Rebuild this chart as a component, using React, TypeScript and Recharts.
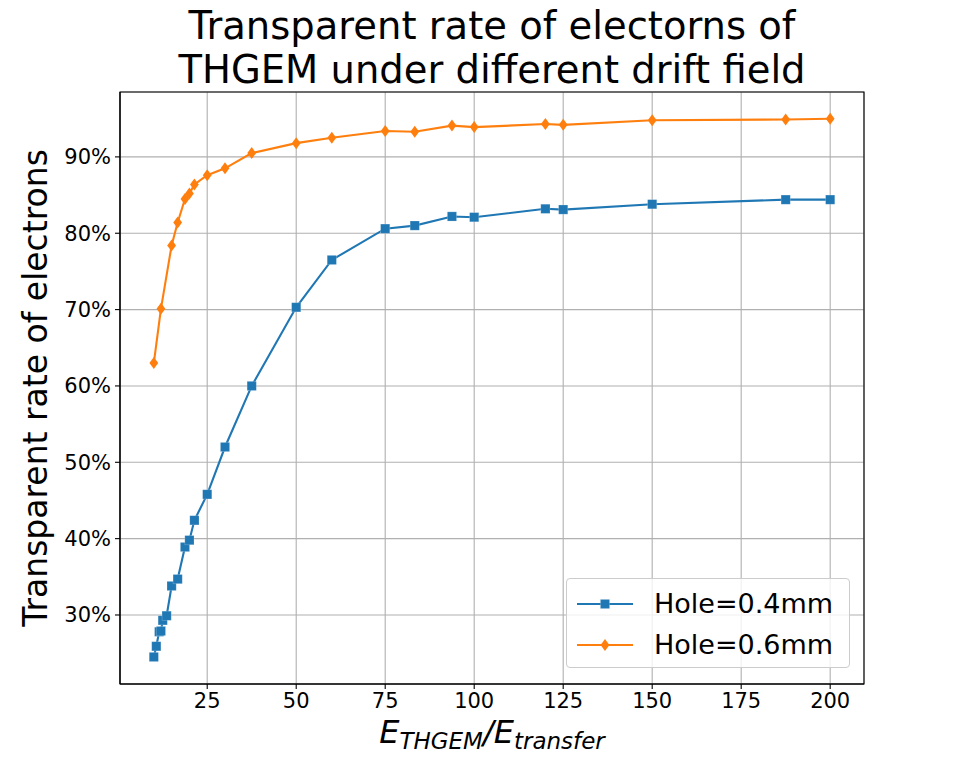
import { LineChart, Line, XAxis, YAxis, CartesianGrid, Legend, ReferenceArea } from 'recharts';

// E_THGEM / E_transfer ratio for each measurement
const ratioHole04 = [10, 10.7, 11.5, 12, 12.5, 13.6, 15, 16.7, 18.75, 20, 21.4, 25, 30, 37.5, 50, 60, 75, 83.3, 93.75, 100, 120, 125, 150, 187.5, 200];
const rateHole04 = [24.5, 25.9, 27.8, 27.9, 29.3, 29.9, 33.8, 34.7, 38.9, 39.8, 42.4, 45.8, 52.0, 60.0, 70.3, 76.5, 80.6, 81.0, 82.2, 82.1, 83.2, 83.1, 83.8, 84.4, 84.4];

const ratioHole06 = [10, 12, 15, 16.7, 18.75, 20, 21.4, 25, 30, 37.5, 50, 60, 75, 83.3, 93.75, 100, 120, 125, 150, 187.5, 200];
const rateHole06 = [63.0, 70.1, 78.4, 81.4, 84.5, 85.2, 86.4, 87.6, 88.5, 90.5, 91.8, 92.5, 93.4, 93.3, 94.1, 93.9, 94.3, 94.2, 94.8, 94.9, 95.0];

const xTicks = [25, 50, 75, 100, 125, 150, 175, 200];
const yTicks = [30, 40, 50, 60, 70, 80, 90];

const BLUE = '#1f77b4';
const ORANGE = '#ff7f0e';
const FONT = '"DejaVu Sans", sans-serif';

const hole04 = ratioHole04.map((x, i) => ({ x, y: rateHole04[i] }));
const hole06 = ratioHole06.map((x, i) => ({ x, y: rateHole06[i] }));

const X_DOMAIN: [number, number] = [0.5, 209.5];
const Y_DOMAIN: [number, number] = [20.96, 98.5];

function Square({ cx, cy, color }: { cx: number; cy: number; color: string }) {
  return <rect x={cx - 4.6} y={cy - 4.6} width={9.2} height={9.2} fill={color} stroke="#fff" strokeOpacity={0.25} strokeWidth={0.8} />;
}

function ThinDiamond({ cx, cy, color }: { cx: number; cy: number; color: string }) {
  return <polygon points={`${cx},${cy - 6} ${cx + 4.4},${cy} ${cx},${cy + 6} ${cx - 4.4},${cy}`} fill={color} />;
}

const series = [
  { name: 'Hole=0.4mm', color: BLUE, Marker: Square },
  { name: 'Hole=0.6mm', color: ORANGE, Marker: ThinDiamond },
];

function LegendBox() {
  return (
    <div
      style={{
        width: 284,
        height: 90,
        boxSizing: 'border-box',
        border: '1px solid #cccccc',
        borderRadius: 4,
        background: 'rgba(255,255,255,0.8)',
        fontFamily: FONT,
        fontSize: 27,
        paddingTop: 4,
      }}
    >
      {series.map(({ name, color, Marker }) => (
        <div key={name} style={{ display: 'flex', alignItems: 'center', height: 41 }}>
          <svg width={78} height={20} style={{ marginLeft: 9 }}>
            <line x1={1} y1={10} x2={57} y2={10} stroke={color} strokeWidth={2.1} />
            <Marker cx={29} cy={10} color={color} />
          </svg>
          <span style={{ color: '#000' }}>{name}</span>
        </div>
      ))}
    </div>
  );
}

function XLabel({ viewBox }: any) {
  const cx = viewBox.x + viewBox.width / 2;
  return (
    <text x={cx} y={743} textAnchor="middle" fontFamily={FONT} fontStyle="italic" fontSize={32} fill="#000">
      E<tspan fontSize={23} dy={6}>THGEM</tspan>
      <tspan fontSize={32} dy={-6}>/E</tspan>
      <tspan fontSize={23} dy={6}>transfer</tspan>
    </text>
  );
}

function YLabel({ viewBox }: any) {
  const cy = viewBox.y + viewBox.height / 2;
  return (
    <text x={47} y={cy} transform={`rotate(-90, 47, ${cy})`} textAnchor="middle" fontFamily={FONT} fontSize={33} fill="#000">
      Transparent rate of electrons
    </text>
  );
}

export default function App() {
  const tickStyle = { fontSize: 21, fill: '#000', fontFamily: FONT };
  return (
    <div style={{ position: 'absolute', left: 0, top: 0, width: 960, height: 768, background: '#fff', fontFamily: FONT }}>
      <div
        style={{
          position: 'absolute',
          left: 120,
          width: 744,
          top: 4,
          textAlign: 'center',
          fontSize: 38.5,
          lineHeight: '44px',
          color: '#000',
        }}
      >
        Transparent rate of electorns of
        <br />
        THGEM under different drift field
      </div>
      <LineChart width={960} height={768} margin={{ top: 92, right: 96, bottom: 0, left: 0 }}>
        <CartesianGrid stroke="#b0b0b0" strokeWidth={1.1} />
        <XAxis
          type="number"
          dataKey="x"
          domain={X_DOMAIN}
          ticks={xTicks}
          allowDataOverflow
          height={84}
          tickSize={5}
          tickMargin={4}
          tick={tickStyle}
          tickLine={{ stroke: '#000', strokeWidth: 1.1 }}
          axisLine={{ stroke: '#000', strokeWidth: 1.1 }}
          label={<XLabel />}
        />
        <YAxis
          type="number"
          dataKey="y"
          domain={Y_DOMAIN}
          ticks={yTicks}
          allowDataOverflow
          width={120}
          tickSize={5}
          tickMargin={4}
          tick={tickStyle}
          tickFormatter={(v: number) => `${v}%`}
          tickLine={{ stroke: '#000', strokeWidth: 1.1 }}
          axisLine={{ stroke: '#000', strokeWidth: 1.1 }}
          label={<YLabel />}
        />
        <ReferenceArea x1={X_DOMAIN[0]} x2={X_DOMAIN[1]} y1={Y_DOMAIN[0]} y2={Y_DOMAIN[1]} fill="none" stroke="#000" strokeWidth={1.1} />
        <Line
          data={hole04}
          dataKey="y"
          name="Hole=0.4mm"
          stroke={BLUE}
          strokeWidth={2.1}
          isAnimationActive={false}
          dot={(p: any) => <Square key={`b${p.index}`} cx={p.cx} cy={p.cy} color={BLUE} />}
        />
        <Line
          data={hole06}
          dataKey="y"
          name="Hole=0.6mm"
          stroke={ORANGE}
          strokeWidth={2.1}
          isAnimationActive={false}
          dot={(p: any) => <ThinDiamond key={`o${p.index}`} cx={p.cx} cy={p.cy} color={ORANGE} />}
        />
        <Legend
          layout="vertical"
          align="center"
          verticalAlign="middle"
          content={() => <LegendBox />}
          wrapperStyle={{ left: 566, top: 578, width: 284, height: 90 }}
        />
      </LineChart>
    </div>
  );
}
